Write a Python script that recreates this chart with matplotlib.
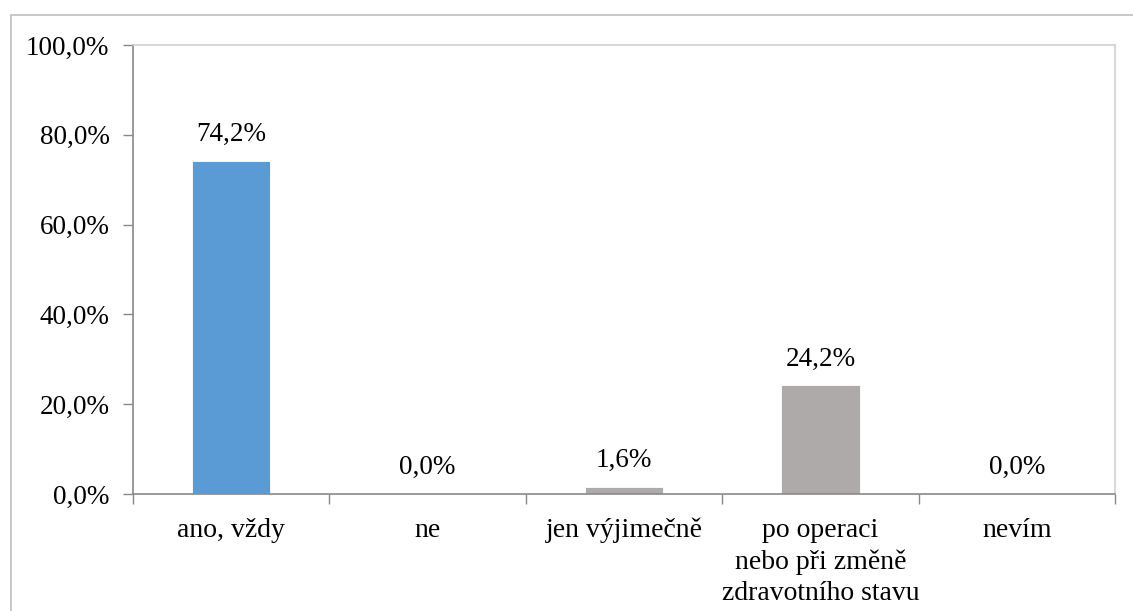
import matplotlib
matplotlib.use("Agg")
import matplotlib.pyplot as plt
from matplotlib.patches import Rectangle
from matplotlib.ticker import FuncFormatter, FixedLocator

categories = ["ano, vždy", "ne", "jen výjimečně", "po operaci\nnebo při změně\nzdravotního stavu", "nevím"]
values = [74.2, 0.0, 1.6, 24.2, 0.0]
colors = ["#5B9BD5", "#AEAAAA", "#AEAAAA", "#AEAAAA", "#AEAAAA"]
yticks = [0, 20, 40, 60, 80, 100]

plt.rcParams['font.family'] = ['Liberation Serif', 'DejaVu Serif']

fig = plt.figure(figsize=(11.33, 6.11), dpi=100)
fig.patches.append(Rectangle((11/1133, -0.1), 1.2, 1 - 15/611 + 0.1, transform=fig.transFigure,
                             fill=False, edgecolor="#BFBFBF", linewidth=1.2))
ax = fig.add_axes([133/1133, 1 - 494/611, (1115-133)/1133, (494-45)/611])

x = list(range(len(categories)))
ax.bar(x, values, width=0.4, color=colors, edgecolor="white", linewidth=0.6)
for xi, v in zip(x, values):
    ax.annotate(f"{v:.1f}%".replace(".", ","), (xi, v), xytext=(0, 10), textcoords="offset points",
                ha="center", va="bottom", fontsize=19.5)

ax.set_xlim(-0.5, len(categories) - 0.5)
ax.set_ylim(0, 100)
ax.set_yticks(yticks)
ax.yaxis.set_major_formatter(FuncFormatter(lambda v, p: f"{v:.1f}%".replace(".", ",")))
ax.tick_params(axis="y", labelsize=19.5, length=7, color="#898989", width=1, pad=10)

ax.set_xticks(x)
ax.set_xticklabels(categories, fontsize=20, linespacing=1.33, va="top")
ax.tick_params(axis="x", which="major", length=0, pad=17)
ax.xaxis.set_minor_locator(FixedLocator([i - 0.5 for i in range(len(categories) + 1)]))
ax.tick_params(axis="x", which="minor", length=7, color="#898989", width=1)

for s in ["left", "bottom"]:
    ax.spines[s].set_color("#898989")
    ax.spines[s].set_linewidth(1.2)
for s in ["top", "right"]:
    ax.spines[s].set_color("#D0D0D0")
    ax.spines[s].set_linewidth(1.2)

fig.savefig("out.png", dpi=100)
